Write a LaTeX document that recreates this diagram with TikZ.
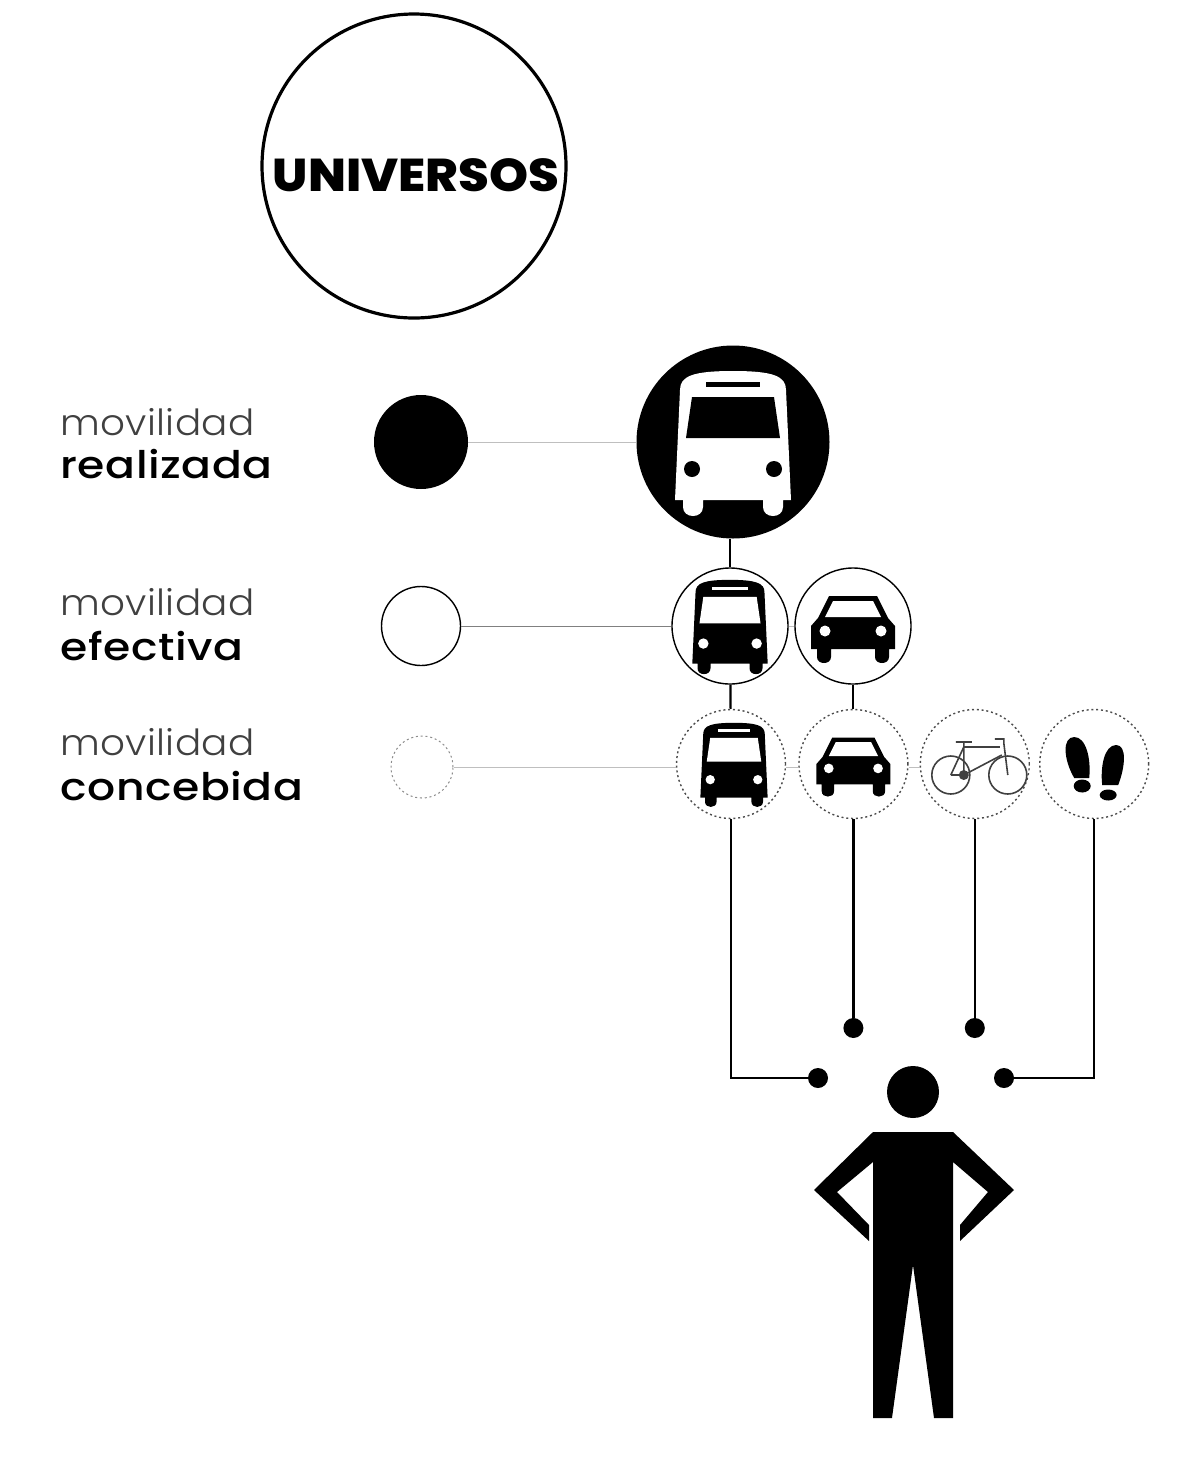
\documentclass[tikz,border=0pt]{standalone}
\usepackage{fontspec}
\usepackage{tikz}
\usetikzlibrary{positioning}
\setmainfont{Poppins}
\newfontfamily\thinfont[FakeStretch=1.08,LetterSpace=1]{Poppins Light}
\newfontfamily\midfont[FakeStretch=1.16,LetterSpace=1.5]{Poppins Medium}
\newfontfamily\heavyfont[FakeStretch=1.08]{Poppins ExtraBold}

\tikzset{
    pics/busicon/.style 2 args={code={
        \fill[#1] (-53,-52) .. controls (-53,-66) and (-40,-71) .. (0,-71)
            .. controls (40,-71) and (53,-66) .. (53,-52) -- (58,58) -- (50,58) -- (50,65)
            .. controls (50,77) and (30,77) .. (30,65) -- (30,58) -- (-30,58) -- (-30,65)
            .. controls (-30,77) and (-50,77) .. (-50,65) -- (-50,58) -- (-58,58) -- cycle;
        \fill[#2] (-41,-45) -- (41,-45) -- (47,-4) -- (-47,-4) -- cycle;
        \fill[#2] (-27,-60) rectangle (27,-55);
        \fill[#2] (-41,27) circle (8) (41,27) circle (8);
    }},
    pics/caricon/.style={code={
        \fill[black] (-24,-30) -- (24,-30) -- (35,-8) -- (42,0) -- (42,23) -- (36,23) -- (36,31)
            .. controls (36,39) and (22,39) .. (22,31) -- (22,23) -- (-22,23) -- (-22,31)
            .. controls (-22,39) and (-36,39) .. (-36,31) -- (-36,23) -- (-42,23) -- (-42,0)
            -- (-35,-8) -- cycle;
        \fill[white] (-20,-25) -- (20,-25) -- (28,-9) -- (-28,-9) -- cycle;
        \fill[white] (-28,5) circle (5.5) (28,5) circle (5.5);
    }},
    pics/bikeicon/.style={code={
        \draw[black!75, line width=.8pt] (-24,11) circle (19) (33,11) circle (19);
        \draw[black!75, line width=.8pt] (-24,11) -- (-11,-17) -- (25,-17) (-24,11) -- (-11,11)
            -- (-11,-22) (-19,-22) -- (-3,-22) (-11,11) -- (27,-9)
            (20,-25) -- (29,-25) -- (29,-21) -- (33,11);
        \fill[black!75] (-11,11) circle (5);
    }},
    pics/shoeicon/.style={code={
        \fill[black] (-20,-27) .. controls (-32,-27) and (-31,-5) .. (-20,14) -- (-5,14)
            .. controls (-3,-5) and (-8,-27) .. (-20,-27);
        \fill[black] (-12,22) ellipse (8.5 and 6.5);
        \fill[black] (22,-19) .. controls (33,-19) and (31,3) .. (24,21) -- (8,21)
            .. controls (6,3) and (10,-19) .. (22,-19);
        \fill[black] (14,31) ellipse (8.5 and 5.5);
    }}
}

\begin{document}
\begin{tikzpicture}[
    x=0.5pt, y=-0.5pt,
    every node/.style={inner sep=0pt},
    node distance=6pt,
    solidring/.style={draw, circle, line width=.7pt, fill=white},
    dashring/.style={draw=black!70, circle, line width=.7pt, fill=white, dash pattern=on 1pt off 1.4pt},
    blackdisc/.style={circle, fill=black},
    enddot/.style={circle, fill=black, minimum size=10pt},
    topline/.style={line width=1.1pt},
    faintline/.style={black!25, line width=.5pt},
    caption/.style={anchor=base west, font=\fontsize{18}{18}\thinfont, text=black!75},
    captionb/.style={anchor=base west, font=\fontsize{19}{19}\midfont}
]
\useasboundingbox (0,0) rectangle (1198,1474);

\node[draw, circle, line width=1.6pt, minimum size=152pt] (universe) at (414,166) {};
\node[font=\fontsize{23}{23}\heavyfont] (universelabel) at (416,175) {UNIVERSOS};

% legend
\node[blackdisc, minimum size=47pt] (legenda) at (421,442) {};
\node[solidring, minimum size=39.5pt] (legendb) at (421,626) {};
\node[dashring, minimum size=31pt, draw=black!45, line width=.5pt] (legendc) at (422,767) {};

\node[caption] (capa) at (60,435) {movilidad};
\node[captionb] (capaa) at (60,478) {realizada};
\node[caption] (capb) at (60,615) {movilidad};
\node[captionb] (capbb) at (60,660) {efectiva};
\node[caption] (capc) at (60,755) {movilidad};
\node[captionb] (capcc) at (60,800) {concebida};

% circles
\node[blackdisc, minimum size=96.5pt] (bigbus) at (733,442) {};
\node[solidring, minimum size=58pt] (midbus) at (730,626) {};
\node[solidring, minimum size=58pt] (midcar) at (853,626) {};
\node[dashring, minimum size=54.5pt] (lowbus) at (731,764) {};
\node[dashring, minimum size=54.5pt] (lowcar) [right=of lowbus] {};
\node[dashring, minimum size=54.5pt] (lowbike) [right=5.5pt of lowcar] {};
\node[dashring, minimum size=54.5pt] (lowshoe) [right=4.5pt of lowbike] {};

% end points and person
\node[enddot] (dotbus) at (818,1078) {};
\node[enddot] (dotcar) at (lowcar |- 0,1028) {};
\node[enddot] (dotbike) at (lowbike |- 0,1028) {};
\node[enddot] (dotshoe) at (1004,1078) {};
\node[blackdisc, minimum size=26pt] (head) at (913,1092) {};

\fill[black] (873,1132) -- (953,1132) -- (1014,1190) -- (960,1241) -- (960,1225) -- (988,1192)
    -- (953,1162) -- (953,1418) -- (934,1418) -- (913,1265) -- (892,1418) -- (873,1418)
    -- (873,1162) -- (837,1192) -- (869,1225) -- (869,1241) -- (814,1190) -- cycle;

% connectors
\draw[faintline] (legenda) -- (bigbus);
\draw[faintline, black!50] (legendb) -- (midbus);
\draw[faintline] (midbus) -- (midcar);
\draw[faintline] (legendc.east) -- (legendc.east -| lowbus.west);
\draw[faintline] (lowbus.east |- legendc) -- (lowcar.west |- legendc);
\draw[faintline] (lowcar.east |- legendc) -- (lowbike.west |- legendc);

\draw[topline] (bigbus.south -| midbus) -- (midbus.north);
\draw[topline] (midbus) -- (lowbus);
\draw[topline] (midcar.south) -- (midcar.south |- lowcar.north);
\draw[topline] (lowbus.south) |- (dotbus);
\draw[topline] (lowcar.south) -- (dotcar);
\draw[topline] (lowbike.south) -- (dotbike);
\draw[topline] (lowshoe.south) |- (dotshoe);

% icons
\pic at (bigbus) {busicon={white}{black}};
\pic[scale=.65] at (midbus) {busicon={black}{white}};
\pic[scale=.58] at ([xshift=1.5pt]lowbus) {busicon={black}{white}};
\pic at (midcar) {caricon};
\pic[scale=.88] at (lowcar) {caricon};
\pic at (lowbike) {bikeicon};
\pic at (lowshoe) {shoeicon};
\end{tikzpicture}
\end{document}
